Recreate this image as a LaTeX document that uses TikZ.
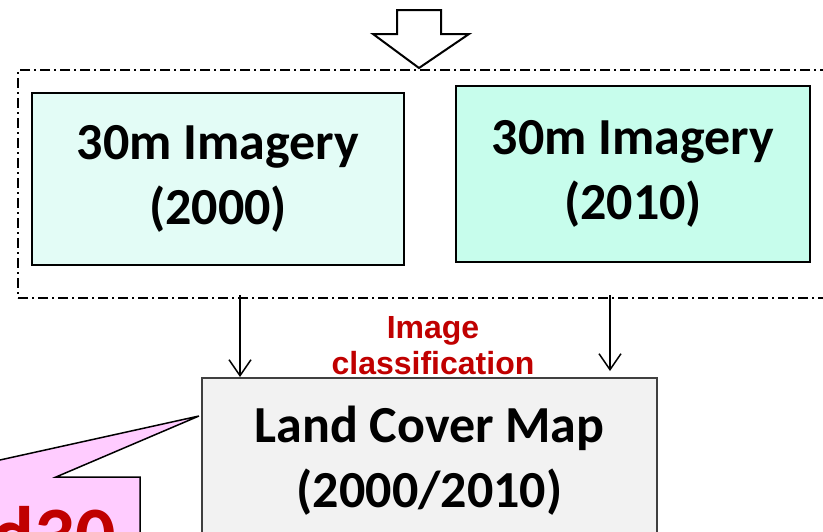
\documentclass[tikz,border=0pt]{standalone}
\usepackage{fontspec}
\usepackage{xcolor,tikz}
\usetikzlibrary{arrows.meta,positioning}
\newfontfamily\boxfont{Carlito}[Scale=1.0]
\newfontfamily\labfont{Liberation Sans}
\definecolor{mint}{RGB}{227,252,246}
\definecolor{aqua}{RGB}{199,253,236}
\definecolor{greybox}{RGB}{242,242,242}
\definecolor{pink}{RGB}{255,204,255}
\definecolor{darkred}{RGB}{192,0,0}
\tikzset{
  arr/.style={-{Straight Barb[length=16pt,width=22pt]},line width=1.5pt,draw=black},
  imgbox/.style={draw=black,line width=1.5pt,align=center,inner sep=0pt,
    font=\boxfont\bfseries\fontsize{52}{65}\selectfont},
  frame/.style={draw=black,line width=1.2pt,dash pattern=on 10pt off 4pt on 2pt off 4pt},
  lab/.style={font=\labfont\bfseries\fontsize{32}{36}\selectfont,text=darkred,align=center},
  hollow/.style={draw=black,fill=white,line width=2pt,line join=miter}
}

\begin{document}
\begin{tikzpicture}[x=1pt,y=-1pt]
  \useasboundingbox (0,0) rectangle (823,531);
  \clip (0,0) rectangle (823,531);

  % input block
  \node[frame,minimum width=822pt,minimum height=228pt] (grp) at (429,184) {};
  \draw[hollow] (397,10) -- (441,10) -- (441,34) -- (469,34) -- (419,68)
    -- (373,34) -- (397,34) -- cycle;
  \node[imgbox,fill=mint,minimum width=372pt,minimum height=172pt] (img00) at (218,179) {30m Imagery\\(2000)};
  \node[imgbox,fill=aqua,minimum width=354pt,minimum height=176pt] (img10) at (633,174) {30m Imagery\\(2010)};

  % classification
  \node[imgbox,draw=black!75,line width=2pt,fill=greybox,minimum width=455pt,minimum height=166pt] (lcm) at (429.5,461) {Land Cover Map\\(2000/2010)};
  \node[lab] (cls) at (433,346) {Image\\classification};
  \coordinate (s00) at (240,295);
  \coordinate (s10) at (610,295);
  \coordinate (e10) at (610,371);
  \draw[arr] (s00) -- (s00 |- lcm.north);
  \draw[arr] (s10) -- (e10);

  % callout
  \draw[draw=black,fill=pink,line width=1.5pt,line join=miter]
    (-200,477) -- (-77,477) -- (199,416) -- (56,477) -- (140,477)
    -- (140,600) -- (-200,600) -- cycle;
  \node[anchor=base east,inner sep=0pt,text=darkred,
    font=\boxfont\bfseries\fontsize{80}{82}\selectfont] (gl) at (116,562) {d30};
\end{tikzpicture}
\end{document}
